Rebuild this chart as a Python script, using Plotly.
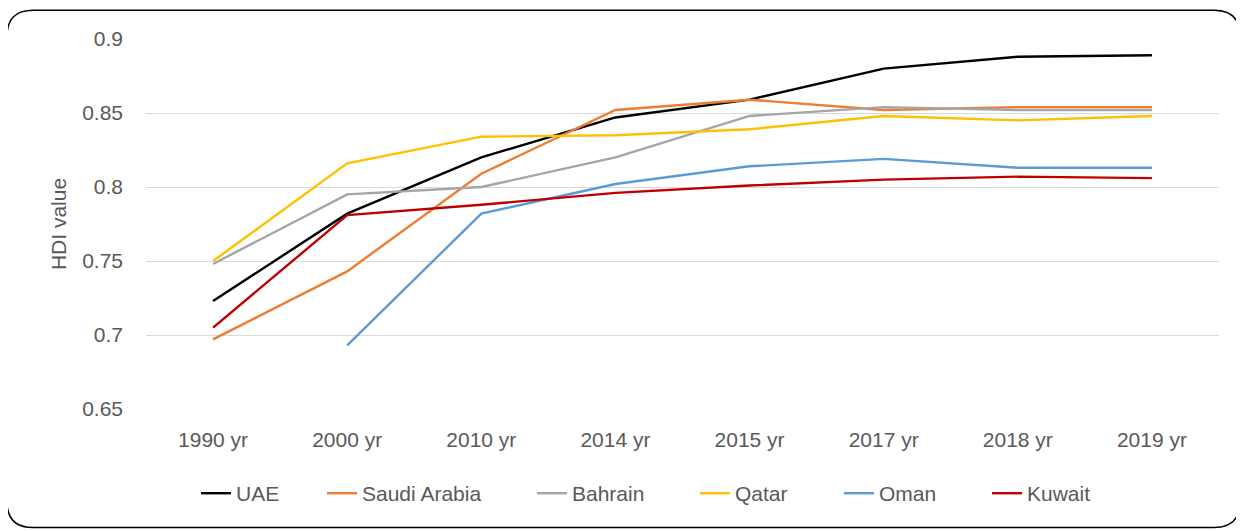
import plotly.graph_objects as go

years = ["1990 yr", "2000 yr", "2010 yr", "2014 yr", "2015 yr", "2017 yr", "2018 yr", "2019 yr"]
uae = [0.723, 0.782, 0.820, 0.847, 0.859, 0.880, 0.888, 0.889]
saudi = [0.697, 0.743, 0.809, 0.852, 0.859, 0.852, 0.854, 0.854]
bahrain = [0.748, 0.795, 0.800, 0.820, 0.848, 0.854, 0.852, 0.852]
qatar = [0.750, 0.816, 0.834, 0.835, 0.839, 0.848, 0.845, 0.848]
oman = [None, 0.693, 0.782, 0.802, 0.814, 0.819, 0.813, 0.813]
kuwait = [0.705, 0.781, 0.788, 0.796, 0.801, 0.805, 0.807, 0.806]

names = ["UAE", "Saudi Arabia", "Bahrain", "Qatar", "Oman", "Kuwait"]
values = [uae, saudi, bahrain, qatar, oman, kuwait]
colors = ["#000000", "#ED7D31", "#A5A5A5", "#FFC000", "#5B9BD5", "#C00000"]

# page body has an 8px margin; work in screen pixels and convert
OFF = 8
W, H = 1244 - OFF, 531 - OFF
S_L, S_R, S_T, S_B = 146, 1219, 38.7, 409.3  # plot area in screen px
ML, MT = S_L - OFF, S_T - OFF
MR = W - (S_R - OFF)
MB = H - (S_B - OFF)
PW, PH = S_R - S_L, S_B - S_T

def px2paper(x, y):
    return (x - S_L) / PW, (S_B - y) / PH

FONT = "Liberation Sans, Arial, sans-serif"
TXT = "#595959"
FS = 21

fig = go.Figure()
legend_text_x = [236, 362, 572, 735, 879, 1027]
for i, (name, vals, col) in enumerate(zip(names, values, colors)):
    lg = "legend" if i == 0 else f"legend{i + 1}"
    fig.add_trace(go.Scatter(x=years, y=vals, name=name, mode="lines",
                             line=dict(color=col, width=2.4), legend=lg))

legends = {}
ly = px2paper(0, 494)[1]
for i, tx in enumerate(legend_text_x):
    lg = "legend" if i == 0 else f"legend{i + 1}"
    lx = px2paper(tx - 40, 0)[0]
    legends[lg] = dict(orientation="h", x=lx, xanchor="left", y=ly, yanchor="middle",
                       font=dict(family=FONT, size=FS, color=TXT),
                       bgcolor="rgba(0,0,0,0)", borderwidth=0)

# rounded border
x0, y0, x1, y1, r = 7, 10, 1240, 528, 26
def P(x, y):
    a, b = px2paper(x, y)
    return f"{a:.5f},{b:.5f}"
path = (f"M {P(x0 + r, y0)} L {P(x1 - r, y0)} Q {P(x1, y0)} {P(x1, y0 + r)} "
        f"L {P(x1, y1 - r)} Q {P(x1, y1)} {P(x1 - r, y1)} "
        f"L {P(x0 + r, y1)} Q {P(x0, y1)} {P(x0, y1 - r)} "
        f"L {P(x0, y0 + r)} Q {P(x0, y0)} {P(x0 + r, y0)} Z")
fig.add_shape(type="path", path=path, xref="paper", yref="paper",
              line=dict(color="#000000", width=1.5), layer="below")

fig.update_layout(
    width=W, height=H,
    margin=dict(l=ML, r=MR, t=MT, b=MB, autoexpand=False),
    paper_bgcolor="white", plot_bgcolor="white",
    font=dict(family=FONT, size=FS, color=TXT),
    showlegend=True,
    xaxis=dict(type="category", range=[-0.5, 7.5], showgrid=False, zeroline=False,
               showline=False, ticks="", ticklabelstandoff=16,
               tickfont=dict(family=FONT, size=FS, color=TXT)),
    yaxis=dict(range=[0.65, 0.9], dtick=0.05, tick0=0.65, showgrid=True,
               gridcolor="#D9D9D9", gridwidth=1.3, zeroline=False, showline=False,
               ticks="", ticklabelstandoff=22,
               tickfont=dict(family=FONT, size=FS, color=TXT),
               title=dict(text="HDI value", standoff=9,
                          font=dict(family=FONT, size=FS, color=TXT))),
    **legends,
)

fig.write_html("out.html")
